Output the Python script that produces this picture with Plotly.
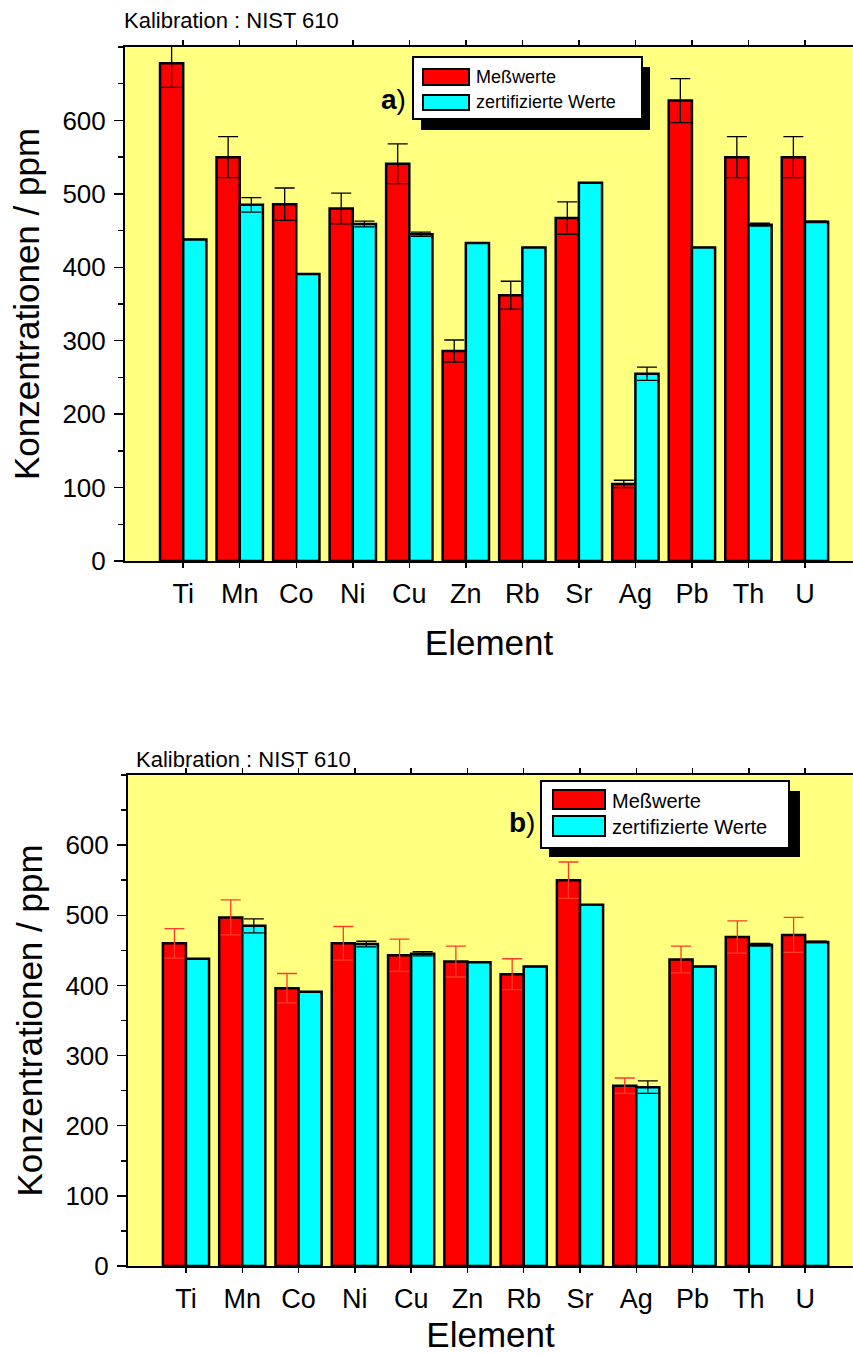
import plotly.graph_objects as go

# ---------------- data ----------------
elements = ["Ti", "Mn", "Co", "Ni", "Cu", "Zn", "Rb", "Sr", "Ag", "Pb", "Th", "U"]

measured_a = [678, 550, 486, 480, 541, 286, 362, 467, 105, 627, 550, 550]
measured_a_err = [33, 28, 22, 21, 27, 15, 19, 22, 5, 30, 28, 28]

measured_b = [460, 497, 396, 460, 443, 434, 416, 550, 257, 437, 469, 472]
measured_b_err = [21, 25, 21, 24, 23, 22, 22, 26, 11, 19, 23, 25]

certified = [438, 485, 391, 459, 445, 433, 427, 515, 255, 427, 458, 462]
certified_err = [0, 10, 0, 4, 3, 0, 0, 0, 9, 0, 2, 1]

series_names = ["Meßwerte", "zertifizierte Werte"]
panel_labels = ["a", "b"]
calib_text = "Kalibration : NIST 610"
y_title = "Konzentrationen / ppm"
x_title = "Element"
y_tickvals = [0, 100, 200, 300, 400, 500, 600]

# ---------------- style ----------------
W, H = 853, 1354
FONT = "Liberation Sans, Arial, Helvetica, sans-serif"
RED = "#ff0000"
CYAN = "#00ffff"
BG = "#ffff80"


def px(x):
    return x / W


def py(y):
    return 1 - y / H


fig = go.Figure()


def add_panel(xa, ya, meas, meas_err, err_color):
    fig.add_trace(go.Bar(
        x=elements, y=meas, name=series_names[0], xaxis=xa, yaxis=ya,
        marker=dict(color=RED, line=dict(color="black", width=2.5)),
        error_y=dict(type="data", array=meas_err, color=err_color,
                     thickness=1.3, width=10),
        cliponaxis=False, showlegend=False))
    fig.add_trace(go.Bar(
        x=elements, y=certified, name=series_names[1], xaxis=xa, yaxis=ya,
        marker=dict(color=CYAN, line=dict(color="black", width=2.5)),
        error_y=dict(type="data", array=certified_err, color="black",
                     thickness=1.3, width=10),
        cliponaxis=False, showlegend=False))


add_panel("x", "y", measured_a, measured_a_err, "black")
add_panel("x2", "y2", measured_b, measured_b_err, "#ff3a2a")


def xaxis_cfg(left_px, standoff):
    return dict(
        domain=[px(left_px), 1], type="category", range=[-1.03, 11.85],
        showline=True, linecolor="black", linewidth=2, mirror="ticks",
        ticks="outside", ticklen=5, tickcolor="black", tickwidth=1.5,
        tickfont=dict(family=FONT, size=27, color="black"),
        ticklabelstandoff=3,
        title=dict(text=x_title, font=dict(family=FONT, size=35, color="black"),
                   standoff=standoff),
        showgrid=False, zeroline=False, automargin=False, fixedrange=True)


def yaxis_cfg(bottom_px, top_px):
    return dict(
        domain=[py(bottom_px), py(top_px)], range=[0, 700],
        tickmode="array", tickvals=y_tickvals,
        showline=True, linecolor="black", linewidth=2, mirror=False,
        ticks="outside", ticklen=9, tickcolor="black", tickwidth=1.5,
        minor=dict(ticks="outside", ticklen=5, tickcolor="black", tickwidth=1.5,
                   dtick=50, tick0=0),
        tickfont=dict(family=FONT, size=26, color="black"),
        ticklabelstandoff=3,
        title=dict(text=y_title, font=dict(family=FONT, size=35, color="black"),
                   standoff=12),
        showgrid=False, zeroline=False, automargin=False, fixedrange=True)


shapes = []
annotations = []


def legend_block(box, shadow, sw_red, sw_cyan, text_x, text_y1, text_y2, fsize,
                 lab_x, lab_y, label):
    shapes.append(dict(type="rect", xref="paper", yref="paper",
                       x0=px(shadow[0]), x1=px(shadow[2]),
                       y0=py(shadow[3]), y1=py(shadow[1]),
                       fillcolor="black", line=dict(width=0), layer="above"))
    shapes.append(dict(type="rect", xref="paper", yref="paper",
                       x0=px(box[0]), x1=px(box[2]), y0=py(box[3]), y1=py(box[1]),
                       fillcolor="white", line=dict(color="black", width=2),
                       layer="above"))
    for sw, col in ((sw_red, RED), (sw_cyan, CYAN)):
        shapes.append(dict(type="rect", xref="paper", yref="paper",
                           x0=px(sw[0]), x1=px(sw[2]), y0=py(sw[3]), y1=py(sw[1]),
                           fillcolor=col, line=dict(color="black", width=2),
                           layer="above"))
    for txt, ty in ((series_names[0], text_y1), (series_names[1], text_y2)):
        annotations.append(dict(text=txt, xref="paper", yref="paper",
                                x=px(text_x), y=py(ty), xanchor="left",
                                yanchor="middle", showarrow=False,
                                font=dict(family=FONT, size=fsize, color="black")))
    annotations.append(dict(text="<b>%s</b>)" % label, xref="paper", yref="paper",
                            x=px(lab_x), y=py(lab_y), xanchor="right",
                            yanchor="middle", showarrow=False,
                            font=dict(family=FONT, size=28, color="black")))


legend_block(box=(413, 57, 642, 119), shadow=(421, 67, 650, 130),
             sw_red=(423, 69, 469, 85), sw_cyan=(423, 95, 469, 110),
             text_x=474, text_y1=77, text_y2=102, fsize=18,
             lab_x=408, lab_y=99, label=panel_labels[0])
legend_block(box=(541, 781, 789, 848), shadow=(549, 791, 800, 857),
             sw_red=(553, 790, 605, 809), sw_cyan=(553, 816, 605, 836),
             text_x=610, text_y1=801, text_y2=827, fsize=20,
             lab_x=537, lab_y=822, label=panel_labels[1])

annotations.append(dict(text=calib_text, xref="paper", yref="paper",
                        x=px(122), y=py(20), xanchor="left", yanchor="middle",
                        showarrow=False,
                        font=dict(family=FONT, size=22, color="black")))
annotations.append(dict(text=calib_text, xref="paper", yref="paper",
                        x=px(134), y=py(760), xanchor="left", yanchor="middle",
                        showarrow=False,
                        font=dict(family=FONT, size=22, color="black")))

fig.update_layout(
    width=W, height=H,
    margin=dict(l=0, r=0, t=0, b=0),
    paper_bgcolor="white", plot_bgcolor=BG,
    barmode="group", bargap=0.18, bargroupgap=0,
    font=dict(family=FONT, color="black"),
    xaxis=xaxis_cfg(125, 22), yaxis=yaxis_cfg(561, 47),
    xaxis2=dict(xaxis_cfg(128, 18), anchor="y2"),
    yaxis2=dict(yaxis_cfg(1266, 775), anchor="x2"),
    shapes=shapes, annotations=annotations,
)
fig.layout.xaxis.anchor = "y"
fig.layout.yaxis.anchor = "x"

fig.write_html(
    "out.html",
    config={"displayModeBar": False, "staticPlot": True},
    post_script="document.body.style.margin='0px';document.body.style.overflow='hidden';",
)
